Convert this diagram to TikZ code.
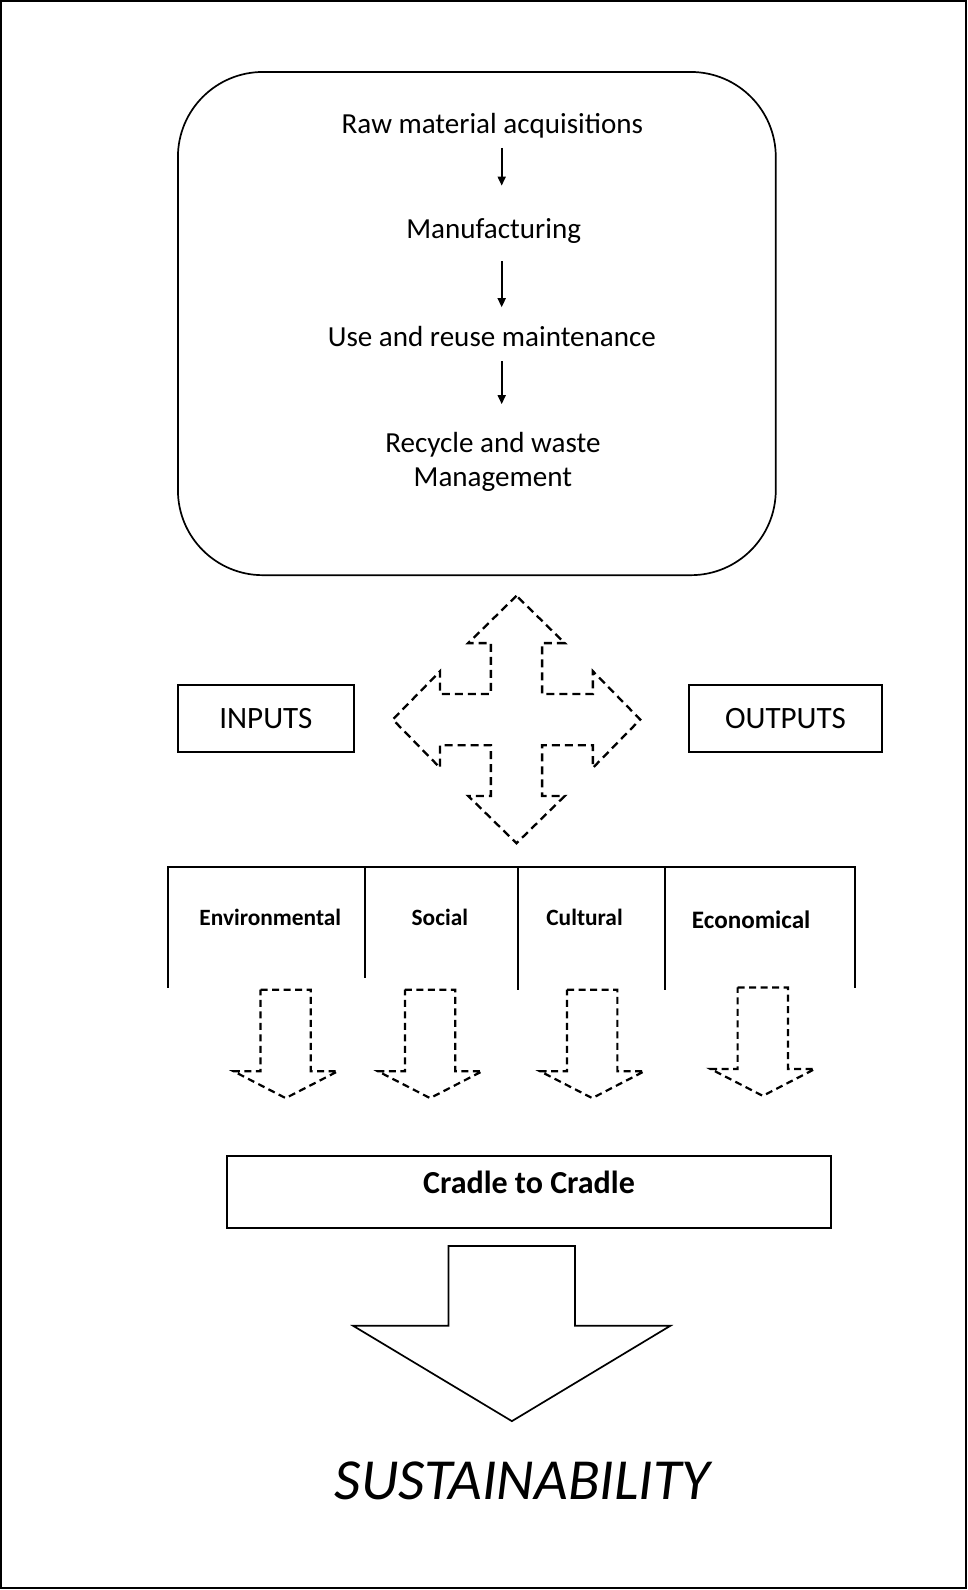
\documentclass[tikz,border=0pt]{standalone}
\usepackage{fontspec}
\setmainfont{Carlito}
\usetikzlibrary{arrows.meta}
\begin{document}
\begin{tikzpicture}[x=1pt,y=-1pt,
  stagetext/.style={inner sep=0pt, anchor=base, font=\fontsize{29.5}{35}\selectfont},
  flowarrow/.style={line width=1.7pt, -{Triangle[length=9pt,width=8pt]}},
  plainbox/.style={draw, line width=2pt, inner sep=0pt},
  iobox/.style={plainbox, minimum height=68pt, font=\fontsize{31.5}{36}\selectfont},
  catlabel/.style={inner sep=0pt, anchor=base, font=\bfseries\fontsize{23.7}{28}\selectfont},
  dashshape/.style={draw, line width=2.3pt, dash pattern=on 8pt off 5pt, line join=miter},
  smalldash/.style={draw, line width=2.2pt, dash pattern=on 7pt off 4.5pt, line join=miter},
  tableline/.style={line width=2pt},
  solidshape/.style={draw, line width=1.7pt, line join=miter}]
\useasboundingbox (0,0) rectangle (968,1590);
\begin{scope}[scale=0.98574, transform shape]
\draw[line width=2pt] (1.5,1.5) rectangle (979.5,1610.5);

% life-cycle container
\node[draw, line width=1.7pt, rounded corners=85pt, minimum width=606.5pt, minimum height=510.5pt, inner sep=0pt] (lifecycle) at (483.75,328.25) {};
\node[stagetext] (raw) at (499.5,135) {Raw material acquisitions};
\node[stagetext] (manu) at (500.8,241.7) {Manufacturing};
\node[stagetext] (use) at (499,351.7) {Use and reuse maintenance};
\node[stagetext, align=center, anchor=center] (rec) at (500,468.7) {Recycle and waste\\Management};
\coordinate (a1s) at (509,150);   \coordinate (a1e) at (509,188.3);
\coordinate (a2s) at (509,265);   \coordinate (a2e) at (509,311.7);
\coordinate (a3s) at (509,366.7); \coordinate (a3e) at (509,410);
\draw[flowarrow] (a1s) -- (a1e);
\draw[flowarrow] (a2s) -- (a2e);
\draw[flowarrow] (a3s) -- (a3e);

% inputs / outputs
\node[iobox, minimum width=178.5pt] (inputs) at (269.75,729) {INPUTS};
\node[iobox, minimum width=196.3pt] (outputs) at (796.85,729) {OUTPUTS};

% dashed four-way arrow
\coordinate (crossc) at (524,730);
\begin{scope}[shift={(crossc)}]
\draw[dashshape] (0,-125.5) -- (-49,-77.5) -- (-26,-77.5) -- (-26,-26) -- (-77.5,-26) -- (-77.5,-49)
  -- (-125.5,0) -- (-77.5,49) -- (-77.5,26) -- (-26,26) -- (-26,77.5) -- (-49,77.5)
  -- (0,125.5) -- (49,77.5) -- (26,77.5) -- (26,26) -- (77.5,26) -- (77.5,49)
  -- (125.5,0) -- (77.5,-49) -- (77.5,-26) -- (26,-26) -- (26,-77.5) -- (49,-77.5) -- cycle;
\end{scope}

% categories table
\draw[tableline] (170,1002) -- (170,880) -- (867,880) -- (867,1002);
\draw[tableline] (370.7,880) -- (370.7,992);
\draw[tableline] (525,880) -- (525,1004);
\draw[tableline] (675,880) -- (675,1004);
\node[catlabel] (env) at (274.2,939.3) {Environmental};
\node[catlabel] (soc) at (446.2,939.3) {Social};
\node[catlabel] (cul) at (593,939.3) {Cultural};
\node[catlabel, font=\bfseries\fontsize{25.5}{28}\selectfont] (eco) at (762,941.5) {Economical};

% dashed down arrows
\foreach \cx/\ty in {289.8/1004, 436.3/1004, 600.8/1004, 773.8/1001.7}{
  \draw[smalldash] ({\cx-25.5},\ty) -- ({\cx+25.5},\ty) -- ({\cx+25.5},{\ty+82.7}) -- ({\cx+53},{\ty+82.7})
    -- (\cx,{\ty+110}) -- ({\cx-53},{\ty+82.7}) -- ({\cx-25.5},{\ty+82.7}) -- cycle;
}

% cradle to cradle
\node[plainbox, minimum width=611.9pt, minimum height=73.7pt, text height=20pt, text depth=16pt,
  font=\bfseries\fontsize{32.5}{36}\selectfont] (c2c) at (536.65,1209.15) {Cradle to Cradle};

% big arrow
\draw[solidshape] (455,1264) -- (583.3,1264) -- (583.3,1345) -- (680,1345) -- (519.3,1441.7)
  -- (358.3,1345) -- (455,1345) -- cycle;

\node[inner sep=0pt, anchor=base, font=\itshape\fontsize{59}{64}\selectfont] (sust) at (530,1520.7) {SUSTAINABILITY};
\end{scope}
\end{tikzpicture}
\end{document}
